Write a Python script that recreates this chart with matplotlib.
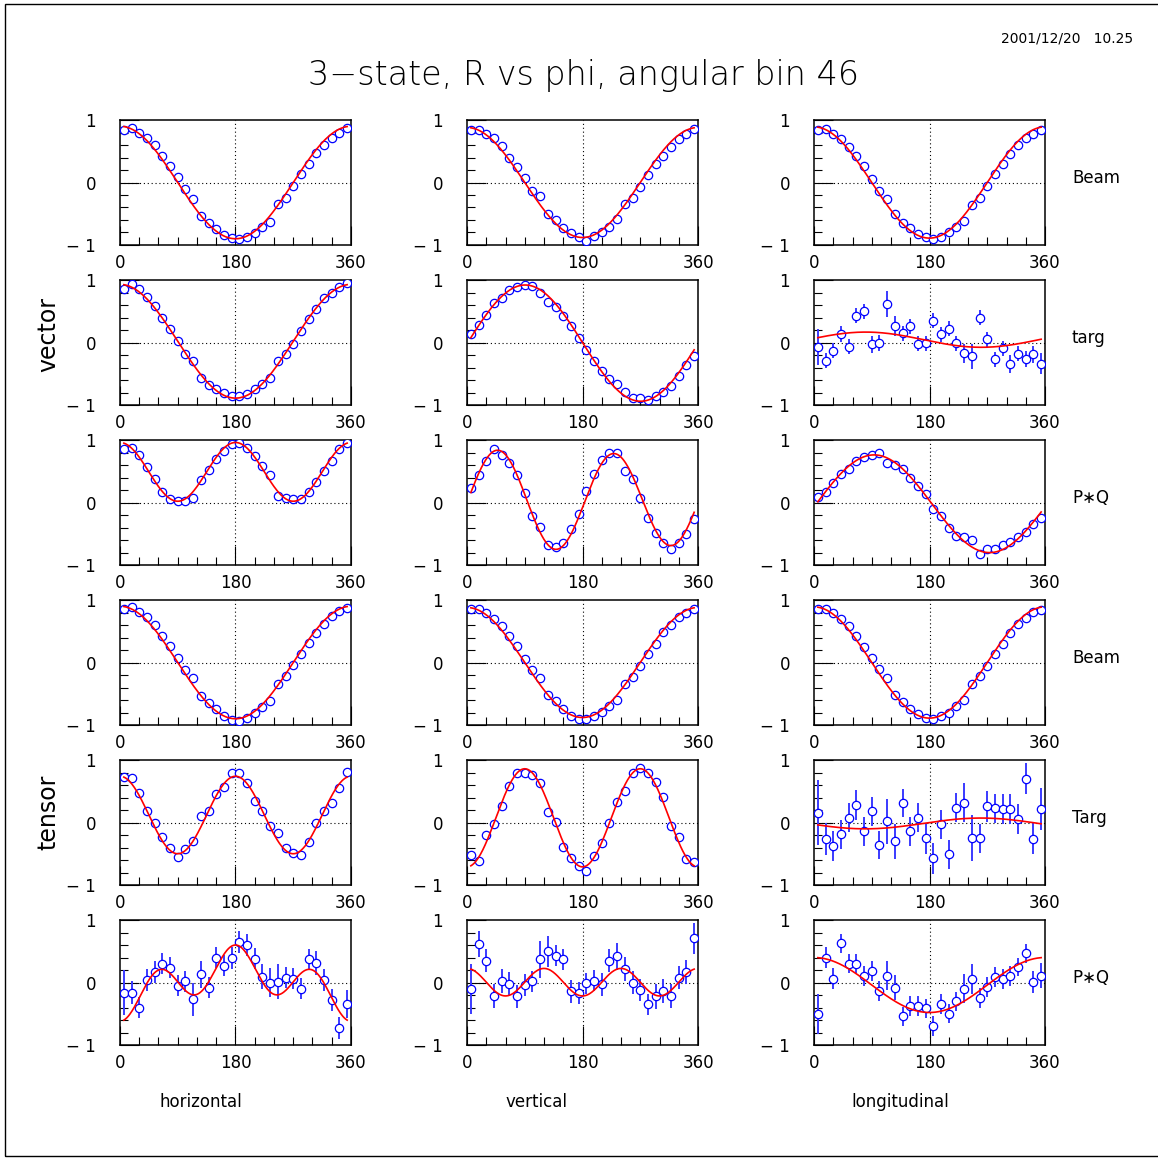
import numpy as np
import matplotlib
matplotlib.use("Agg")
import matplotlib.pyplot as plt
from matplotlib.ticker import FixedLocator

plt.rcParams['font.family'] = ['DejaVu Sans']

# bin centres (degrees)
phi = [6, 18, 30, 42, 54, 66, 78, 90, 102, 114, 126, 138, 150, 162, 174,
       186, 198, 210, 222, 234, 246, 258, 270, 282, 294, 306, 318, 330, 342, 354]

columns = ['horizontal', 'vertical', 'longitudinal']
row_names = ['Beam', 'targ', 'P\u2217Q', 'Beam', 'Targ', 'P\u2217Q']

# ---- vector, Beam ----
vb_h = [0.84, 0.88, 0.79, 0.72, 0.60, 0.43, 0.27, 0.09, -0.11, -0.26, -0.53, -0.65, -0.75, -0.84, -0.89,
        -0.91, -0.88, -0.81, -0.72, -0.63, -0.35, -0.24, -0.06, 0.13, 0.29, 0.47, 0.60, 0.71, 0.79, 0.87]
vb_v = [0.84, 0.84, 0.78, 0.71, 0.59, 0.40, 0.25, 0.07, -0.13, -0.21, -0.51, -0.60, -0.73, -0.81, -0.88,
        -0.93, -0.85, -0.80, -0.71, -0.59, -0.34, -0.24, -0.07, 0.12, 0.29, 0.43, 0.57, 0.70, 0.78, 0.85]
vb_l = [0.84, 0.85, 0.77, 0.69, 0.57, 0.43, 0.26, 0.05, -0.14, -0.26, -0.51, -0.65, -0.73, -0.82, -0.88,
        -0.91, -0.87, -0.80, -0.71, -0.61, -0.36, -0.24, -0.05, 0.14, 0.30, 0.46, 0.60, 0.72, 0.78, 0.84]
# ---- vector, targ ----
vt_h = [0.86, 0.93, 0.85, 0.73, 0.58, 0.40, 0.21, 0.02, -0.19, -0.30, -0.56, -0.68, -0.75, -0.80, -0.86,
        -0.86, -0.83, -0.75, -0.67, -0.56, -0.29, -0.18, -0.03, 0.18, 0.37, 0.53, 0.71, 0.79, 0.89, 0.95]
vt_v = [0.14, 0.28, 0.44, 0.63, 0.72, 0.84, 0.89, 0.92, 0.91, 0.79, 0.65, 0.57, 0.42, 0.26, 0.08,
        -0.12, -0.30, -0.45, -0.58, -0.66, -0.79, -0.88, -0.89, -0.92, -0.86, -0.79, -0.69, -0.53, -0.36, -0.21]
vt_l = [-0.07, -0.29, -0.13, 0.14, -0.07, 0.43, 0.50, -0.03, -0.01, 0.62, 0.26, 0.15, 0.26, -0.02, -0.01,
        0.35, 0.13, 0.22, -0.01, -0.17, -0.22, 0.40, 0.05, -0.27, -0.09, -0.34, -0.18, -0.26, -0.19, -0.34]
vt_l_err = [0.29, 0.12, 0.12, 0.13, 0.12, 0.12, 0.12, 0.13, 0.13, 0.21, 0.16, 0.12, 0.12, 0.12, 0.12,
            0.12, 0.12, 0.12, 0.12, 0.15, 0.20, 0.12, 0.12, 0.12, 0.12, 0.14, 0.12, 0.13, 0.13, 0.17]
# ---- vector, P*Q ----
vp_h = [0.85, 0.88, 0.76, 0.57, 0.37, 0.17, 0.05, 0.03, 0.03, 0.08, 0.36, 0.52, 0.70, 0.82, 0.94,
        0.95, 0.88, 0.74, 0.58, 0.44, 0.11, 0.08, 0.05, 0.06, 0.17, 0.33, 0.50, 0.66, 0.85, 0.95]
vp_v = [0.23, 0.44, 0.67, 0.85, 0.76, 0.64, 0.44, 0.15, -0.21, -0.39, -0.68, -0.71, -0.64, -0.43, -0.19,
        0.18, 0.45, 0.68, 0.79, 0.80, 0.50, 0.37, 0.07, -0.24, -0.49, -0.65, -0.75, -0.65, -0.50, -0.27]
vp_l = [0.09, 0.17, 0.31, 0.46, 0.53, 0.66, 0.73, 0.76, 0.80, 0.63, 0.60, 0.53, 0.40, 0.27, 0.13,
        -0.11, -0.22, -0.41, -0.53, -0.55, -0.60, -0.82, -0.75, -0.75, -0.68, -0.63, -0.55, -0.47, -0.35, -0.25]
# ---- tensor, Beam ----
tb_h = [0.85, 0.89, 0.81, 0.73, 0.60, 0.43, 0.26, 0.07, -0.12, -0.24, -0.53, -0.64, -0.75, -0.85, -0.92,
        -0.93, -0.88, -0.80, -0.71, -0.61, -0.34, -0.22, -0.04, 0.14, 0.32, 0.48, 0.62, 0.74, 0.83, 0.88]
tb_v = [0.85, 0.85, 0.79, 0.69, 0.58, 0.42, 0.26, 0.06, -0.12, -0.25, -0.52, -0.62, -0.74, -0.85, -0.90,
        -0.90, -0.85, -0.79, -0.69, -0.60, -0.34, -0.23, -0.05, 0.13, 0.30, 0.49, 0.60, 0.73, 0.79, 0.86]
tb_l = [0.85, 0.86, 0.79, 0.70, 0.58, 0.43, 0.25, 0.07, -0.11, -0.25, -0.52, -0.63, -0.74, -0.82, -0.89,
        -0.91, -0.86, -0.80, -0.69, -0.60, -0.35, -0.22, -0.05, 0.14, 0.30, 0.47, 0.61, 0.71, 0.81, 0.84]
# ---- tensor, Targ ----
tt_h = [0.73, 0.71, 0.47, 0.19, 0.00, -0.23, -0.40, -0.55, -0.43, -0.30, 0.11, 0.19, 0.45, 0.57, 0.80,
        0.80, 0.64, 0.35, 0.19, -0.05, -0.17, -0.41, -0.49, -0.52, -0.31, 0.00, 0.19, 0.31, 0.56, 0.81]
tt_v = [-0.52, -0.62, -0.20, -0.02, 0.26, 0.59, 0.79, 0.80, 0.76, 0.63, 0.17, 0.01, -0.39, -0.56, -0.69,
        -0.77, -0.54, -0.33, -0.01, 0.33, 0.50, 0.79, 0.87, 0.79, 0.65, 0.41, -0.06, -0.23, -0.58, -0.63]
tt_l = [0.16, -0.26, -0.37, -0.19, 0.08, 0.28, -0.14, 0.18, -0.36, 0.02, -0.30, 0.31, -0.14, 0.08, -0.25,
        -0.57, -0.03, -0.51, 0.24, 0.32, -0.25, -0.25, 0.26, 0.23, 0.21, 0.22, 0.05, 0.70, -0.26, 0.22]
tt_l_err = [0.52, 0.26, 0.24, 0.23, 0.23, 0.24, 0.23, 0.23, 0.22, 0.36, 0.28, 0.22, 0.23, 0.23, 0.25,
            0.25, 0.23, 0.23, 0.23, 0.31, 0.37, 0.23, 0.25, 0.23, 0.24, 0.24, 0.24, 0.25, 0.25, 0.34]
# ---- tensor, P*Q ----
tp_h = [-0.16, -0.16, -0.40, 0.04, 0.17, 0.30, 0.24, -0.05, 0.02, -0.27, 0.13, -0.08, 0.40, 0.27, 0.39,
        0.65, 0.60, 0.38, 0.09, 0.00, 0.01, 0.08, 0.06, -0.10, 0.37, 0.31, 0.04, -0.28, -0.73, -0.34]
tp_h_err = [0.36, 0.18, 0.17, 0.17, 0.17, 0.17, 0.17, 0.17, 0.17, 0.26, 0.22, 0.17, 0.17, 0.17, 0.18,
            0.18, 0.17, 0.17, 0.20, 0.23, 0.28, 0.17, 0.17, 0.17, 0.17, 0.19, 0.17, 0.18, 0.18, 0.22]
tp_v = [-0.10, 0.62, 0.35, -0.22, 0.03, -0.02, -0.22, -0.04, 0.02, 0.37, 0.50, 0.43, 0.37, -0.14, -0.17,
        -0.01, 0.03, -0.03, 0.35, 0.42, 0.22, 0.00, -0.12, -0.35, -0.22, -0.14, -0.22, 0.08, 0.17, 0.71]
tp_v_err = [0.40, 0.21, 0.18, 0.19, 0.19, 0.19, 0.18, 0.18, 0.17, 0.29, 0.25, 0.17, 0.17, 0.18, 0.18,
            0.17, 0.17, 0.19, 0.18, 0.22, 0.19, 0.19, 0.18, 0.17, 0.20, 0.19, 0.19, 0.18, 0.19, 0.25]
tp_l = [-0.50, 0.40, 0.06, 0.63, 0.30, 0.30, 0.11, 0.19, -0.13, 0.11, -0.08, -0.54, -0.37, -0.38, -0.41,
        -0.70, -0.34, -0.50, -0.30, -0.10, 0.06, -0.25, -0.07, 0.09, 0.05, 0.10, 0.25, 0.47, 0.01, 0.11]
tp_l_err = [0.32, 0.17, 0.17, 0.15, 0.15, 0.15, 0.16, 0.16, 0.16, 0.23, 0.20, 0.15, 0.16, 0.16, 0.15,
            0.16, 0.16, 0.15, 0.15, 0.23, 0.24, 0.16, 0.16, 0.16, 0.16, 0.16, 0.15, 0.15, 0.18, 0.20]

small_err = [0.03] * 30

# fit parameters:
# R = a0 + a1 cos + b1 sin + a2 cos2 + b2 sin2 + a3 cos3 + b3 sin3
fits = [
    [[0, 0.90, 0, 0, 0, 0, 0], [0, 0.88, 0, 0, 0, 0, 0], [0, 0.89, 0, 0, 0, 0, 0]],
    [[0.02, 0.91, 0, 0, 0, 0, 0], [-0.01, -0.01, 0.93, 0, 0, 0, 0], [0.045, 0.02, 0.12, 0, 0, 0, 0]],
    [[0.49, 0, 0, 0.47, 0, 0, 0], [0.045, 0.04, 0, -0.085, 0.76, 0, 0], [-0.02, -0.05, 0.78, 0, 0, 0, 0]],
    [[0, 0.90, 0, 0, 0, 0, 0], [0, 0.88, 0, 0, 0, 0, 0], [0, 0.89, 0, 0, 0, 0, 0]],
    [[0.12, 0, 0, 0.62, 0, 0, 0], [0.075, 0, 0, -0.785, 0, 0, 0], [-0.015, -0.015, -0.085, 0, 0, 0, 0]],
    [[0, -0.277, 0, -0.01, 0, -0.333, 0], [0.005, 0, 0, 0, 0, 0.22, 0], [-0.04, 0.44, 0, 0, 0, 0, 0]],
]

values = [[vb_h, vb_v, vb_l], [vt_h, vt_v, vt_l], [vp_h, vp_v, vp_l],
          [tb_h, tb_v, tb_l], [tt_h, tt_v, tt_l], [tp_h, tp_v, tp_l]]
errors = [[small_err, small_err, small_err], [small_err, small_err, vt_l_err],
          [small_err, small_err, small_err], [small_err, small_err, small_err],
          [small_err, small_err, tt_l_err], [tp_h_err, tp_v_err, tp_l_err]]


def fourier(p, x):
    r = np.radians(x)
    return (p[0] + p[1] * np.cos(r) + p[2] * np.sin(r) + p[3] * np.cos(2 * r)
            + p[4] * np.sin(2 * r) + p[5] * np.cos(3 * r) + p[6] * np.sin(3 * r))


W = H = 1158.0
fig = plt.figure(figsize=(11.58, 11.58), dpi=100)
px = 72.0 / 100  # points per pixel

# outer frame
fig.add_artist(plt.Rectangle((5 / W, 1 - 1156 / H), 1160 / W, 1152 / H, transform=fig.transFigure,
                             fill=False, edgecolor='black', linewidth=1.0))

col_left = [120, 467, 814]
row_top = [120, 280, 440, 600, 760, 920]
aw, ah = 231, 125
xfine = np.linspace(phi[0], phi[-1], 300)

for i in range(6):
    for j in range(3):
        ax = fig.add_axes([col_left[j] / W, 1 - (row_top[i] + ah) / H, aw / W, ah / H])
        ax.set_xlim(0, 360)
        ax.set_ylim(-1, 1)
        ax.axhline(0, color='black', lw=0.8, ls=(0, (1, 2.5)), zorder=1)
        ax.axvline(180, color='black', lw=0.8, ls=(0, (1, 2.5)), zorder=1)
        ax.errorbar(phi, values[i][j], yerr=errors[i][j], fmt='none', ecolor='#3a3aff',
                    elinewidth=1.4, capsize=0, zorder=2)
        ax.plot(phi, values[i][j], 'o', ms=6.0, mfc='white', mec='#0000ff', mew=0.9, zorder=3)
        ax.plot(xfine, fourier(fits[i][j], xfine), color='#ff0000', lw=1.2, zorder=4)

        ax.xaxis.set_major_locator(FixedLocator([0, 180, 360]))
        ax.xaxis.set_minor_locator(FixedLocator([30, 60, 90, 120, 150, 210, 240, 270, 300, 330]))
        ax.yaxis.set_major_locator(FixedLocator([-1, 0, 1]))
        ax.yaxis.set_minor_locator(FixedLocator([-0.8, -0.6, -0.4, -0.2, 0.2, 0.4, 0.6, 0.8]))
        ax.set_xticklabels(['0', '180', '360'])
        ax.set_yticklabels(['\u2212 1', '0', '1'])
        ax.tick_params(which='both', direction='in', top=False, right=False, width=0.8,
                       labelsize=12, colors='black')
        ax.tick_params(which='major', length=19 * px)
        ax.tick_params(which='minor', length=8 * px)
        ax.tick_params(axis='x', pad=9 * px)
        ax.tick_params(axis='y', pad=24 * px)
        for s in ax.spines.values():
            s.set_linewidth(1.1)

    fig.text(1072 / W, 1 - (row_top[i] + 58) / H, row_names[i], fontsize=12, va='center', ha='left')

fig.text(48 / W, 1 - 335 / H, 'vector', rotation=90, fontsize=17, ha='center', va='center')
fig.text(48 / W, 1 - 812 / H, 'tensor', rotation=90, fontsize=17, ha='center', va='center')

label_x = [201, 536, 900]
for j in range(3):
    fig.text(label_x[j] / W, 1 - 1102 / H, columns[j], fontsize=12, ha='center', va='center')

fig.text(583 / W, 1 - 76 / H, '3\u2212state, R vs phi, angular bin 46', fontsize=24,
         fontweight='light', ha='center', va='center')
fig.text(1133 / W, 1 - 38 / H, '2001/12/20   10.25', fontsize=10, ha='right', va='center')

fig.savefig('out.png', dpi=100)
